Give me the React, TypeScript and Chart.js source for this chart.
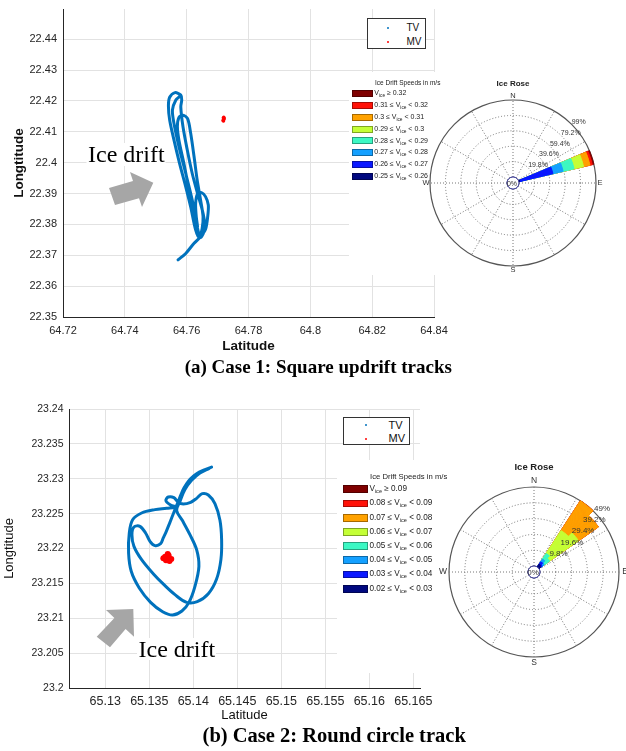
import React, { useEffect, useRef } from "react";
import { Chart, registerables } from "chart.js";

Chart.register(...registerables);

const SANS = '"Liberation Sans", Arial, Helvetica, sans-serif';
const SERIF = '"Liberation Serif", "Times New Roman", serif';
const TV_COLOR = "#0072BD";
const MV_COLOR = "#FF0000";
const GRID_COLOR = "#e2e2e2";
const AXIS_COLOR = "#262626";

// ---------------- Case 1 (square updrift tracks) ----------------
const A_X_TICKS = [64.72, 64.74, 64.76, 64.78, 64.8, 64.82, 64.84];
const A_Y_TICKS = [22.35, 22.36, 22.37, 22.38, 22.39, 22.4, 22.41, 22.42, 22.43, 22.44];
const A_TV_LAT = [
  64.7572, 64.7597, 64.7624, 64.7645, 64.7661, 64.7668, 64.767, 64.7661, 64.7648, 64.7635,
  64.7629, 64.7631, 64.7635, 64.7624, 64.7608, 64.7591, 64.7575, 64.757, 64.7575, 64.7588,
  64.7603, 64.7613, 64.7624, 64.7634, 64.7645, 64.7653, 64.765, 64.764, 64.7629, 64.7613,
  64.7597, 64.7577, 64.7559, 64.7545, 64.7541, 64.7545, 64.7562, 64.7581, 64.7584, 64.7581,
  64.7588, 64.7602, 64.7618, 64.7635, 64.7653, 64.7659, 64.7645, 64.7634, 64.7618, 64.7597,
  64.7575, 64.7559, 64.7554, 64.7565, 64.7577,
];
const A_TV_LON = [
  22.3685, 22.3706, 22.3739, 22.376, 22.3784, 22.3825, 22.3863, 22.389, 22.3903, 22.3899,
  22.3868, 22.3825, 22.3793, 22.3836, 22.3911, 22.3998, 22.4073, 22.4117, 22.4147, 22.4154,
  22.4143, 22.4095, 22.4019, 22.3944, 22.3879, 22.3825, 22.3787, 22.3758, 22.3782, 22.3857,
  22.3922, 22.3998, 22.4073, 22.4138, 22.4184, 22.4212, 22.4227, 22.4219, 22.4203, 22.4181,
  22.4117, 22.4041, 22.3965, 22.3901, 22.3836, 22.3787, 22.3758, 22.3793, 22.3879, 22.3965,
  22.4052, 22.4127, 22.4171, 22.4203, 22.4214,
];
const A_MV_LAT = [64.7719, 64.772, 64.7718, 64.7721, 64.7719, 64.772];
const A_MV_LON = [22.4145, 22.414, 22.4137, 22.4143, 22.4135, 22.4147];

// ---------------- Case 2 (round circle track) ----------------
const B_X_TICKS = [65.13, 65.135, 65.14, 65.145, 65.15, 65.155, 65.16, 65.165];
const B_Y_TICKS = [23.2, 23.205, 23.21, 23.215, 23.22, 23.225, 23.23, 23.235, 23.24];
const B_TV_LAT = [
  65.14208, 65.14133, 65.14068, 65.14008, 65.13943, 65.13894, 65.1386, 65.13822, 65.1378, 65.13735,
  65.13689, 65.13659, 65.13629, 65.13564, 65.13508, 65.13458, 65.13394, 65.13326, 65.13303, 65.13326,
  65.13413, 65.13545, 65.13667, 65.13792, 65.13924, 65.14045, 65.14171, 65.14265, 65.14314, 65.14322,
  65.14303, 65.14246, 65.14171, 65.14102, 65.14038, 65.1397, 65.13886, 65.1383, 65.1378, 65.13716,
  65.13689, 65.13742, 65.13803, 65.13697, 65.13564, 65.13413, 65.13311, 65.13273, 65.13265, 65.13295,
  65.13386, 65.13515, 65.13652, 65.13765, 65.13871, 65.13951, 65.14019, 65.14064, 65.14038, 65.13962,
  65.13875, 65.13811, 65.13849, 65.13905, 65.13981, 65.14076, 65.14182,
];
const B_TV_LON = [
  23.23168, 23.2313, 23.23097, 23.23044, 23.22963, 23.22867, 23.22772, 23.22652, 23.22519, 23.22375,
  23.22232, 23.22151, 23.22069, 23.22041, 23.22103, 23.22222, 23.22318, 23.22308, 23.22198, 23.22031,
  23.2184, 23.21639, 23.21481, 23.21338, 23.21228, 23.21238, 23.21352, 23.21563, 23.2184, 23.22127,
  23.22404, 23.22643, 23.22767, 23.22786, 23.22719, 23.22662, 23.22638, 23.22662, 23.22729, 23.22738,
  23.22686, 23.22624, 23.22595, 23.22576, 23.22557, 23.22509, 23.22413, 23.22222, 23.21935, 23.21673,
  23.21434, 23.21228, 23.21094, 23.21047, 23.21104, 23.21228, 23.21458, 23.21744, 23.21983, 23.22198,
  23.22404, 23.22547, 23.22676, 23.22844, 23.22977, 23.23082, 23.23149,
];
const B_MV_LAT = [65.1368, 65.1372, 65.1375, 65.1369, 65.1366, 65.1373, 65.1371, 65.137];
const B_MV_LON = [23.2188, 23.219, 23.2185, 23.2183, 23.2186, 23.2182, 23.2192, 23.2187];

// ---------------- Ice roses ----------------
// speed classes, slowest -> fastest
const SPEED_COLORS = ["#00087f", "#0a18ff", "#14a0ff", "#3cf8c4", "#c4ff36", "#ffa200", "#ff1208", "#7f0000"];
const A_SPEED_EDGES = [0.25, 0.26, 0.27, 0.28, 0.29, 0.3, 0.31, 0.32];
const B_SPEED_EDGES = [0.02, 0.03, 0.04, 0.05, 0.06, 0.07, 0.08, 0.09];
const A_RINGS = [0, 19.8, 39.6, 59.4, 79.2, 99];
const B_RINGS = [0, 9.8, 19.6, 29.4, 39.2, 49];
// direction sectors (compass degrees, from -> to) and per-class percentage
const A_SECTOR_FROM = [67];
const A_SECTOR_TO = [77];
const A_SECTOR_PCT = [[1, 44, 13.5, 14.5, 12.5, 8.5, 3, 2]];
const B_SECTOR_FROM = [33, 44];
const B_SECTOR_TO = [44, 55];
const B_SECTOR_PCT = [
  [1.9, 1.9, 1.9, 4.3, 17, 22, 0, 0],
  [1.2, 1.3, 1.5, 4, 22, 15, 0, 0],
];
const DIR_LABELS = Array.from({ length: 360 }, (_, i) => `${i}°`);
const COMPASS = ["N", "E", "S", "W"];
const COMPASS_DEG = [0, 90, 180, 270];

type TrackOpts = {
  lat: number[]; lon: number[]; mvLat: number[]; mvLon: number[];
  xMin: number; xMax: number; yMin: number; yMax: number;
  xTicks: number[]; yTicks: number[];
  xTickFont: number; yTickFont: number; titleFont: number; bold: boolean;
  xTitlePad: number; yTitlePad: number; xTickPad: number; yTickPad: number;
  yAxisW: number; xAxisH: number;
  pad: { top: number; right: number; left: number; bottom: number };
  lineWidth: number; tension: number; mvRadius: number;
};

function trackConfig(o: TrackOpts): any {
  const tv = o.lat.map((x, i) => ({ x, y: o.lon[i] }));
  const mv = o.mvLat.map((x, i) => ({ x, y: o.mvLon[i] }));
  const titleFont = { family: SANS, size: o.titleFont, weight: o.bold ? "bold" : "normal" };
  return {
    type: "scatter",
    data: {
      datasets: [
        {
          label: "TV", data: tv, showLine: true, borderColor: TV_COLOR, backgroundColor: TV_COLOR,
          borderWidth: o.lineWidth, pointRadius: 0, tension: o.tension,
          borderCapStyle: "round", borderJoinStyle: "round",
        },
        {
          label: "MV", data: mv, showLine: false, pointRadius: o.mvRadius,
          backgroundColor: MV_COLOR, borderColor: MV_COLOR, borderWidth: 0,
        },
      ],
    },
    options: {
      responsive: false, animation: false, events: [],
      layout: { padding: o.pad },
      plugins: { legend: { display: false }, tooltip: { enabled: false } },
      scales: {
        x: {
          type: "linear", min: o.xMin, max: o.xMax,
          afterBuildTicks: (s: any) => { s.ticks = o.xTicks.map((v) => ({ value: v })); },
          afterFit: (s: any) => { s.height = o.xAxisH; s.paddingLeft = 0; s.paddingRight = 0; },
          ticks: {
            font: { family: SANS, size: o.xTickFont }, color: AXIS_COLOR, padding: o.xTickPad,
            maxRotation: 0, autoSkip: false, callback: (v: number) => String(v),
          },
          grid: { color: GRID_COLOR, drawTicks: false },
          border: { color: AXIS_COLOR, width: 1 },
          title: { display: true, text: "Latitude", font: titleFont, color: "#111", padding: { top: 0, bottom: o.xTitlePad } },
        },
        y: {
          type: "linear", min: o.yMin, max: o.yMax,
          afterBuildTicks: (s: any) => { s.ticks = o.yTicks.map((v) => ({ value: v })); },
          afterFit: (s: any) => { s.width = o.yAxisW; s.paddingTop = 0; s.paddingBottom = 0; },
          ticks: {
            font: { family: SANS, size: o.yTickFont }, color: AXIS_COLOR, padding: o.yTickPad,
            autoSkip: false, callback: (v: number) => String(v),
          },
          grid: { color: GRID_COLOR, drawTicks: false },
          border: { color: AXIS_COLOR, width: 1 },
          title: { display: true, text: "Longtitude", font: titleFont, color: "#111", padding: { top: o.yTitlePad, bottom: 0 } },
        },
      },
    },
  };
}

type RoseOpts = {
  rings: number[]; from: number[]; to: number[]; pct: number[][]; edges: number[];
  radius: number; hole: number; pad: { top: number; right: number; left: number; bottom: number };
  labelFont: number; compassFont: number; compassGap: number; titleFont: number; titleGap: number;
};

function rosePlugin(o: RoseOpts) {
  return {
    id: "roseDecor",
    beforeDraw(chart: any) {
      const { ctx, width, height } = chart;
      ctx.save();
      ctx.fillStyle = "#ffffff";
      ctx.fillRect(0, 0, width, height);
      ctx.restore();
    },
    afterDatasetsDraw(chart: any) {
      const s = chart.scales.r;
      const ctx = chart.ctx;
      const cx = s.xCenter;
      const cy = s.yCenter;
      const R = s.drawingArea;
      const r0 = s.getDistanceFromCenterForValue(0);
      ctx.save();
      ctx.beginPath();
      ctx.arc(cx, cy, r0, 0, Math.PI * 2);
      ctx.fillStyle = "#ffffff";
      ctx.fill();
      ctx.strokeStyle = "#2b2b8e";
      ctx.lineWidth = 0.9;
      ctx.stroke();
      ctx.fillStyle = "#333";
      ctx.font = `${o.labelFont}px ${SANS}`;
      o.rings.forEach((v, k) => {
        const txt = `${v}%`;
        if (k === 0) {
          ctx.textAlign = "center";
          ctx.textBaseline = "middle";
          ctx.fillText(txt, cx - 1, cy + 1);
          return;
        }
        const p = s.getPointPositionForValue(45, v);
        ctx.textAlign = "left";
        ctx.textBaseline = "bottom";
        ctx.fillText(txt, p.x, p.y + 1);
      });
      ctx.font = `${o.compassFont}px ${SANS}`;
      ctx.textAlign = "center";
      ctx.textBaseline = "middle";
      COMPASS.forEach((c, i) => {
        const p = s.getPointPosition(COMPASS_DEG[i], R + o.compassGap);
        ctx.fillText(c, p.x, p.y);
      });
      ctx.fillStyle = "#222";
      ctx.font = `bold ${o.titleFont}px ${SANS}`;
      ctx.fillText("Ice Rose", cx, cy - R - o.titleGap);
      ctx.restore();
    },
  };
}

function roseConfig(o: RoseOpts): any {
  const max = o.rings[o.rings.length - 1];
  const min = (-max * o.hole) / (o.radius - o.hole);
  const last = o.rings.length - 1;
  const datasets = SPEED_COLORS.map((color, k) => ({
    label: String(o.edges[k]),
    data: DIR_LABELS.map((_, deg) => {
      const s = o.from.findIndex((f, j) => deg >= f && deg < o.to[j]);
      if (s < 0) return null;
      return o.pct[s].slice(0, k + 1).reduce((a, b) => a + b, 0);
    }),
    backgroundColor: color,
    borderColor: color,
    borderWidth: (c: any) => (c.raw == null ? 0 : 0.8),
  }));
  return {
    type: "polarArea",
    data: { labels: DIR_LABELS, datasets },
    options: {
      responsive: false, animation: false, events: [],
      layout: { padding: o.pad },
      plugins: { legend: { display: false }, tooltip: { enabled: false } },
      scales: {
        r: {
          type: "radialLinear", min, max, startAngle: 0,
          afterBuildTicks: (s: any) => { s.ticks = o.rings.map((v) => ({ value: v })); },
          ticks: { display: false },
          grid: {
            circular: true,
            color: (c: any) => (c.index === 0 ? "#2b2b8e" : c.index === last ? "#555" : "#777"),
            lineWidth: (c: any) => (c.index === last ? 1.2 : 1),
          },
          border: { dash: (c: any) => (c.index === 0 || c.index === last ? [] : [1, 2]) },
          angleLines: {
            display: true, color: "#777",
            lineWidth: (c: any) => (c.index % 30 === 0 ? 1 : 0),
            borderDash: [1, 2],
          },
          pointLabels: { display: false },
        },
      },
    },
    plugins: [rosePlugin(o)],
  };
}

function ChartBox(props: { left: number; top: number; width: number; height: number; make: () => any }) {
  const ref = useRef<HTMLCanvasElement | null>(null);
  useEffect(() => {
    if (!ref.current) return;
    const chart = new Chart(ref.current, props.make());
    return () => chart.destroy();
  }, []);
  const { left, top, width, height } = props;
  return (
    <div style={{ position: "absolute", left, top, width, height }}>
      <canvas ref={ref} width={width} height={height} style={{ display: "block", width, height }} />
    </div>
  );
}

function SpeedLegend(p: {
  edges: number[]; x: number; y0: number; dy: number; pw: number; ph: number;
  font: number; titleX: number; titleY: number; titleFont: number;
}) {
  const rows = SPEED_COLORS.map((c, k) => ({ c, k })).reverse();
  const sub = <sub style={{ fontSize: "0.68em", verticalAlign: "-0.4em", lineHeight: 0 }}>ice</sub>;
  return (
    <>
      <div style={{
        position: "absolute", left: p.titleX, top: p.titleY - p.titleFont * 0.6, fontSize: p.titleFont,
        lineHeight: `${p.titleFont * 1.2}px`, fontFamily: SANS, color: "#222", whiteSpace: "nowrap",
      }}>Ice Drift Speeds in m/s</div>
      {rows.map(({ c, k }, i) => {
        const y = p.y0 + i * p.dy;
        const last = k === SPEED_COLORS.length - 1;
        return (
          <React.Fragment key={k}>
            <div style={{
              position: "absolute", left: p.x, top: y - p.ph / 2, width: p.pw, height: p.ph,
              background: c, boxSizing: "border-box", border: "0.5px solid rgba(0,0,0,0.35)",
            }} />
            <div style={{
              position: "absolute", left: p.x + p.pw + 1, top: y - p.font * 0.62, fontSize: p.font,
              lineHeight: `${p.font * 1.2}px`, fontFamily: SANS, color: "#222", whiteSpace: "nowrap",
            }}>
              {last ? (
                <>V{sub} ≥ {p.edges[k]}</>
              ) : (
                <>{p.edges[k]} ≤ V{sub} &lt; {p.edges[k + 1]}</>
              )}
            </div>
          </React.Fragment>
        );
      })}
    </>
  );
}

function TrackLegend(p: { left: number; top: number; w: number; h: number; dotX: number; y1: number; y2: number; tx: number; font: number }) {
  const text = (t: string, y: number) => (
    <div style={{
      position: "absolute", left: p.tx, top: y - p.font * 0.6, fontSize: p.font, lineHeight: `${p.font * 1.2}px`,
      fontFamily: SANS, color: "#111",
    }}>{t}</div>
  );
  const dot = (c: string, y: number) => (
    <div style={{ position: "absolute", left: p.dotX - 1.2, top: y - 1.2, width: 2.4, height: 2.4, borderRadius: "50%", background: c }} />
  );
  return (
    <>
      <div style={{
        position: "absolute", left: p.left, top: p.top, width: p.w, height: p.h, background: "#fff",
        border: "1px solid #333", boxSizing: "border-box",
      }} />
      {dot(TV_COLOR, p.y1)}
      {dot(MV_COLOR, p.y2)}
      {text("TV", p.y1)}
      {text("MV", p.y2)}
    </>
  );
}

const A_TRACK: TrackOpts = {
  lat: A_TV_LAT, lon: A_TV_LON, mvLat: A_MV_LAT, mvLon: A_MV_LON,
  xMin: 64.72, xMax: 64.84, yMin: 22.35, yMax: 22.4498,
  xTicks: A_X_TICKS, yTicks: A_Y_TICKS,
  xTickFont: 11, yTickFont: 11, titleFont: 13.5, bold: true,
  xTitlePad: 6, yTitlePad: 11, xTickPad: 7, yTickPad: 6,
  yAxisW: 63, xAxisH: 43,
  pad: { top: 9, right: 26, left: 0, bottom: 0 },
  lineWidth: 3, tension: 0.3, mvRadius: 1.8,
};

const B_TRACK: TrackOpts = {
  lat: B_TV_LAT, lon: B_TV_LON, mvLat: B_MV_LAT, mvLon: B_MV_LON,
  xMin: 65.12588, xMax: 65.16576, yMin: 23.2, yMax: 23.24,
  xTicks: B_X_TICKS, yTicks: B_Y_TICKS,
  xTickFont: 12.5, yTickFont: 10.5, titleFont: 13, bold: false,
  xTitlePad: 6.7, yTitlePad: 2, xTickPad: 6.5, yTickPad: 5.5,
  yAxisW: 69, xAxisH: 42,
  pad: { top: 19, right: 20, left: 0, bottom: 0 },
  lineWidth: 3, tension: 0.35, mvRadius: 3,
};

const A_ROSE: RoseOpts = {
  rings: A_RINGS, from: A_SECTOR_FROM, to: A_SECTOR_TO, pct: A_SECTOR_PCT, edges: A_SPEED_EDGES,
  radius: 83, hole: 6, pad: { left: 81, top: 28, right: 30, bottom: 9 },
  labelFont: 7, compassFont: 7.5, compassGap: 4, titleFont: 8, titleGap: 16,
};

const B_ROSE: RoseOpts = {
  rings: B_RINGS, from: B_SECTOR_FROM, to: B_SECTOR_TO, pct: B_SECTOR_PCT, edges: B_SPEED_EDGES,
  radius: 85, hole: 6, pad: { left: 112, top: 27, right: 7, bottom: 16 },
  labelFont: 8, compassFont: 8.5, compassGap: 6, titleFont: 9.5, titleGap: 20,
};

export default function App() {
  return (
    <div style={{ position: "absolute", left: 0, top: 0, width: 626, height: 751, background: "#fff", overflow: "hidden" }}>
      <ChartBox left={0} top={0} width={460} height={360} make={() => trackConfig(A_TRACK)} />
      <ChartBox left={0} top={390} width={440} height={340} make={() => trackConfig(B_TRACK)} />
      <ChartBox left={349} top={72} width={277} height={203} make={() => roseConfig(A_ROSE)} />
      <ChartBox left={337} top={460} width={289} height={213} make={() => roseConfig(B_ROSE)} />

      <TrackLegend left={367} top={18} w={59} h={31} dotX={388} y1={28.3} y2={41.7} tx={406.5} font={10} />
      <TrackLegend left={343} top={417} w={67} h={28} dotX={366} y1={425.3} y2={438.7} tx={388.5} font={11} />

      <SpeedLegend edges={A_SPEED_EDGES} x={352.3} y0={93.3} dy={11.9} pw={21} ph={7} font={7}
        titleX={375} titleY={83.2} titleFont={6.5} />
      <SpeedLegend edges={B_SPEED_EDGES} x={342.7} y0={489.3} dy={14.2} pw={25.7} ph={7.7} font={8.2}
        titleX={370} titleY={477} titleFont={7.7} />

      <svg width={626} height={751} style={{ position: "absolute", left: 0, top: 0, pointerEvents: "none" }}>
        <rect x={86.5} y={143} width={79} height={23} fill="#fff" />
        <text x={88} y={161.7} fontFamily={SERIF} fontSize={24} fill="#000">Ice drift</text>
        <polygon points="109,188 133,181 130,172 153.3,182.7 142,207 139,198.2 115,205" fill="#a6a6a6" />
        <rect x={137} y={638} width={79} height={22} fill="#fff" />
        <text x={138.5} y={656.7} fontFamily={SERIF} fontSize={24} fill="#000">Ice drift</text>
        <polygon points="96.7,636.7 114.4,618.1 106,610 133.3,609 134,636.7 125.6,628.9 110,647.3" fill="#a6a6a6" />
        <text x={318.3} y={372.5} textAnchor="middle" fontFamily={SERIF} fontWeight="bold" fontSize={19} fill="#000">
          (a) Case 1: Square updrift tracks
        </text>
        <text x={334.2} y={742.4} textAnchor="middle" fontFamily={SERIF} fontWeight="bold" fontSize={20.5} fill="#000">
          (b) Case 2: Round circle track
        </text>
      </svg>
    </div>
  );
}
